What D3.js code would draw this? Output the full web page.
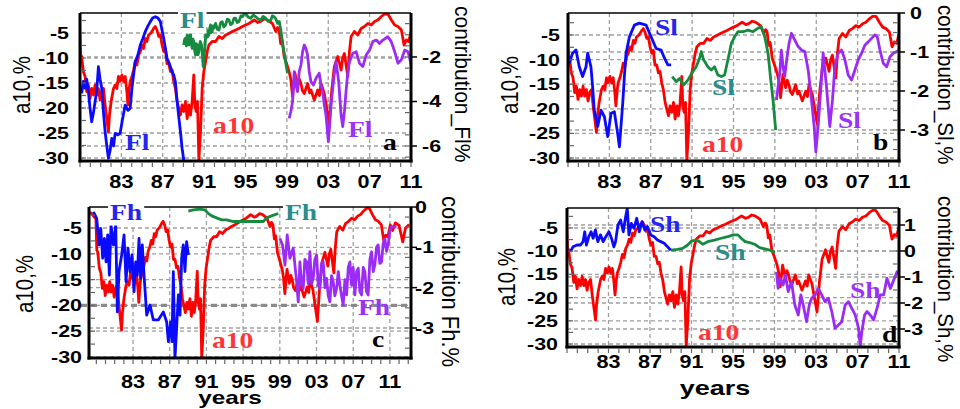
<!DOCTYPE html>
<html><head><meta charset="utf-8">
<script src="https://cdn.jsdelivr.net/npm/d3@7/dist/d3.min.js"></script>
<style>body{margin:0;background:#fff}svg{display:block}</style>
</head><body><svg id="chart" width="960" height="409"></svg>
<script>
// ---------- DATA ----------
const xTickYears = [1983,1987,1991,1995,1999,2003,2007,2011];
const xTickLabels = ["83","87","91","95","99","03","07","11"];
const leftTicks = [-5,-10,-15,-20,-25,-30];
const rightTicksA = [-2,-4,-6];
const rightTicksB = [0,-1,-2,-3];
const rightTicksC = [0,-1,-2,-3];
const rightTicksD = [1,0,-1,-2,-3];

// a10, % (left axis)
const a10 = [[1978.3,-1.9],[1978.6,-2.5],[1978.95,-3.2],[1979.05,-9.3],[1979.16,-9.7],[1979.32,-12.7],[1979.49,-13.7],[1979.65,-16.7],[1979.81,-15.4],[1979.97,-18.1],[1980.13,-16.1],[1980.3,-17.4],[1980.46,-15.4],[1980.62,-17.4],[1980.78,-16.1],[1980.94,-18.4],[1981.1,-16.7],[1981.27,-16.1],[1981.43,-19.4],[1981.59,-22.1],[1981.75,-24.8],[1981.85,-21.4],[1982.01,-18.7],[1982.24,-16.1],[1982.4,-15.4],[1982.56,-16.1],[1982.72,-13.7],[1982.88,-14.7],[1983.05,-13.4],[1983.21,-14.7],[1983.37,-13.7],[1983.53,-16.7],[1983.63,-19.4],[1983.76,-16.1],[1983.85,-14.7],[1984.02,-13.7],[1984.18,-12.4],[1984.34,-10.7],[1984.5,-11.4],[1984.66,-9.4],[1984.83,-8.7],[1984.99,-7.4],[1985.15,-8.1],[1985.31,-6.1],[1985.47,-6.7],[1985.63,-5.4],[1985.8,-5.1],[1985.96,-4.7],[1986.12,-4.1],[1986.28,-3.7],[1986.44,-4.4],[1986.61,-5.7],[1986.77,-5.4],[1986.93,-7.4],[1987.09,-8.7],[1987.25,-8.1],[1987.41,-11.1],[1987.58,-11.1],[1987.74,-12.7],[1987.9,-12.4],[1988.06,-14.7],[1988.22,-16.1],[1988.39,-18.7],[1988.55,-20.1],[1988.71,-21.4],[1988.87,-19.4],[1989.03,-20.7],[1989.2,-18.7],[1989.36,-22.1],[1989.52,-19.4],[1989.68,-21.4],[1989.84,-18.7],[1990.0,-13.4],[1990.1,-19.4],[1990.23,-20.7],[1990.36,-18.7],[1990.49,-30.4],[1990.65,-24.7],[1990.81,-16.1],[1990.97,-12.7],[1991.14,-10.7],[1991.3,-8.7],[1991.46,-7.4],[1991.78,-6.7],[1992.11,-6.7],[1992.43,-5.7],[1992.75,-6.1],[1993.08,-5.4],[1993.4,-5.1],[1993.73,-4.7],[1994.05,-4.4],[1994.37,-4.1],[1994.7,-3.7],[1995.02,-3.4],[1995.34,-3.1],[1995.83,-2.4],[1996.2,-2.9],[1996.48,-2.7],[1996.8,-2.2],[1997.12,-2.4],[1997.4,-2.8],[1997.6,-3.1],[1997.93,-4.7],[1998.1,-3.9],[1998.25,-4.4],[1998.4,-7.1],[1998.55,-6.5],[1998.74,-9.7],[1999.06,-11.7],[1999.25,-13.0],[1999.39,-14.4],[1999.55,-17.7],[1999.78,-13.0],[2000.04,-15.7],[2000.2,-14.2],[2000.36,-15.1],[2000.5,-16.5],[2000.68,-17.1],[2001.01,-15.1],[2001.2,-17.0],[2001.33,-16.4],[2001.65,-18.4],[2001.98,-16.4],[2002.15,-17.5],[2002.3,-15.1],[2002.62,-17.1],[2002.88,-20.4],[2003.1,-23.1],[2003.34,-16.4],[2003.59,-11.7],[2003.92,-9.7],[2004.24,-12.4],[2004.4,-10.0],[2004.56,-9.1],[2004.89,-13.7],[2005.05,-8.7],[2005.21,-5.7],[2005.53,-4.7],[2005.86,-5.4],[2006.18,-4.1],[2006.5,-3.7],[2006.83,-3.1],[2007.15,-3.4],[2007.48,-2.7],[2007.8,-2.4],[2008.13,-1.7],[2008.45,-1.2],[2008.77,-1.2],[2009.1,-2.4],[2009.42,-3.4],[2009.74,-3.7],[2010.07,-4.4],[2010.33,-7.4],[2010.55,-6.4],[2010.78,-6.7],[2011.04,-4.4],[2011.3,-5.5],[2011.6,-4.0],[2012.0,-4.5],[2012.4,-7.7],[2012.7,-5.0],[2013.1,-4.3]];

// contribution_Fl, % (panel a, right axis)
const flBlue = [[1979.16,-3.63],[1979.32,-3.1],[1979.49,-3.4],[1979.65,-3.0],[1979.81,-3.56],[1979.97,-4.3],[1980.13,-4.91],[1980.3,-4.5],[1980.46,-4.0],[1980.62,-3.5],[1980.78,-2.43],[1980.94,-3.0],[1981.1,-3.41],[1981.27,-4.5],[1981.43,-5.36],[1981.59,-6.0],[1981.75,-6.55],[1981.91,-6.2],[1982.07,-5.66],[1982.24,-6.0],[1982.4,-5.43],[1982.66,-5.5],[1982.88,-5.43],[1983.11,-4.8],[1983.37,-4.16],[1983.63,-4.4],[1983.85,-4.31],[1984.02,-3.41],[1984.34,-2.21],[1984.6,-1.9],[1984.83,-1.46],[1985.05,-1.2],[1985.31,-0.86],[1985.57,-0.6],[1985.8,-0.41],[1986.02,-0.25],[1986.28,-0.19],[1986.54,-0.25],[1986.77,-0.41],[1986.93,-0.8],[1987.09,-1.16],[1987.25,-1.6],[1987.41,-2.06],[1987.64,-2.3],[1987.9,-2.66],[1988.06,-2.8],[1988.22,-3.11],[1988.39,-4.01],[1988.55,-4.7],[1988.71,-5.36],[1988.87,-6.1],[1989.03,-6.63]];
const flGreen = [[1989.03,-1.46],[1989.12,-1.2],[1989.2,-1.16],[1989.28,-1.5],[1989.36,-1.01],[1989.44,-1.3],[1989.52,-1.46],[1989.6,-1.1],[1989.68,-0.94],[1989.76,-1.4],[1989.84,-1.61],[1989.92,-1.2],[1990.0,-1.31],[1990.08,-1.7],[1990.17,-1.91],[1990.25,-1.4],[1990.33,-1.46],[1990.41,-1.9],[1990.49,-1.76],[1990.62,-1.3],[1990.75,-1.46],[1990.83,-1.9],[1990.91,-2.43],[1991.0,-1.9],[1991.07,-1.61],[1991.2,-0.71],[1991.33,-1.1],[1991.46,-1.01],[1991.54,-0.7],[1991.62,-0.56],[1991.7,-0.9],[1991.78,-0.86],[1991.87,-0.6],[1991.95,-0.71],[1992.11,-0.49],[1992.27,-0.75],[1992.43,-0.79],[1992.6,-0.45],[1992.75,-0.41],[1992.9,-0.65],[1993.08,-0.56],[1993.24,-0.3],[1993.4,-0.34],[1993.56,-0.55],[1993.73,-0.49],[1993.9,-0.25],[1994.05,-0.26],[1994.2,-0.45],[1994.37,-0.41],[1994.55,-0.15],[1994.7,-0.19],[1994.86,-0.08],[1995.02,-0.04],[1995.25,-0.2],[1995.5,-0.26],[1995.75,-0.12],[1995.99,-0.19],[1996.25,-0.3],[1996.48,-0.34],[1996.7,-0.18],[1996.96,-0.26],[1997.2,-0.4],[1997.45,-0.34],[1997.6,-0.15],[1997.77,-0.19],[1997.95,-0.3],[1998.1,-0.49],[1998.26,-0.4],[1998.42,-0.79],[1998.58,-1.39],[1998.74,-1.83],[1998.9,-2.28],[1999.06,-2.73]];
const flPurple = [[1999.22,-4.76],[1999.38,-4.46],[1999.55,-4.01],[1999.71,-2.66],[1999.87,-3.26],[2000.03,-3.56],[2000.19,-2.66],[2000.36,-2.36],[2000.52,-1.76],[2000.68,-1.46],[2000.84,-1.61],[2001.0,-1.91],[2001.16,-2.66],[2001.33,-3.11],[2001.58,-3.26],[2001.81,-2.96],[2002.13,-2.73],[2002.3,-3.26],[2002.46,-3.56],[2002.62,-4.16],[2002.78,-4.61],[2003.01,-5.8],[2003.14,-5.06],[2003.27,-4.16],[2003.53,-2.96],[2003.75,-2.21],[2004.01,-3.11],[2004.24,-4.61],[2004.4,-5.13],[2004.56,-4.46],[2004.72,-3.56],[2004.89,-2.66],[2005.05,-2.21],[2005.37,-1.84],[2005.7,-1.76],[2006.02,-2.28],[2006.34,-2.43],[2006.67,-1.91],[2006.99,-1.69],[2007.31,-1.31],[2007.64,-1.24],[2007.96,-1.39],[2008.28,-1.24],[2008.77,-1.09],[2009.09,-1.31],[2009.42,-1.76],[2009.74,-2.28],[2010.06,-2.13],[2010.39,-1.69],[2010.71,-1.76],[2011.03,-2.36]];

// contribution_Sl, % (panel b, right axis)
const slBlue = [[1979.12,-1.29],[1979.44,-1.03],[1979.77,-0.95],[1980.09,-1.38],[1980.41,-1.63],[1980.74,-1.38],[1980.9,-1.03],[1981.22,-1.38],[1981.38,-1.89],[1981.54,-2.49],[1981.87,-2.91],[1982.19,-2.49],[1982.52,-2.66],[1982.84,-3.17],[1983.16,-2.57],[1983.48,-2.53],[1983.8,-3.09],[1983.97,-3.43],[1984.29,-2.32],[1984.45,-1.63],[1984.61,-1.03],[1984.94,-0.61],[1985.42,-0.31],[1985.9,-0.26],[1986.55,-0.31],[1987.03,-0.61],[1987.52,-0.91],[1988.0,-0.95],[1988.33,-1.16],[1988.65,-1.33],[1988.97,-1.33]];
const slGreen = [[1989.07,-1.63],[1989.46,-1.76],[1989.78,-1.68],[1990.17,-1.85],[1990.59,-1.72],[1991.07,-1.5],[1991.39,-1.38],[1991.72,-1.16],[1991.88,-0.99],[1992.11,-1.2],[1992.52,-1.38],[1992.85,-1.46],[1993.17,-1.38],[1993.49,-1.59],[1993.82,-1.63],[1994.14,-1.59],[1994.46,-1.2],[1994.79,-0.78],[1995.11,-0.61],[1995.43,-0.48],[1995.92,-0.48],[1996.4,-0.44],[1996.89,-0.48],[1997.37,-0.39],[1997.69,-0.35],[1998.02,-0.61],[1998.34,-1.03],[1998.57,-1.63],[1998.82,-2.23],[1999.08,-3.0]];
const slPurple = [[1999.15,-2.23],[1999.31,-1.89],[1999.47,-1.55],[1999.63,-0.95],[1999.79,-1.38],[1999.95,-1.63],[2000.18,-1.12],[2000.37,-0.78],[2000.6,-0.52],[2000.92,-0.69],[2001.25,-0.86],[2001.57,-0.95],[2001.89,-0.99],[2002.22,-1.46],[2002.54,-2.23],[2002.8,-2.91],[2002.96,-3.56],[2003.18,-2.91],[2003.41,-2.06],[2003.67,-1.03],[2003.99,-1.89],[2004.31,-2.91],[2004.57,-2.23],[2004.8,-1.38],[2005.12,-1.03],[2005.45,-0.95],[2005.77,-1.2],[2006.09,-1.59],[2006.41,-1.72],[2006.74,-1.46],[2007.06,-1.2],[2007.38,-1.03],[2007.71,-0.82],[2008.03,-0.74],[2008.35,-0.65],[2008.67,-0.56],[2008.9,-0.61],[2009.16,-0.95],[2009.48,-1.29],[2009.81,-1.38],[2010.13,-1.12],[2010.45,-1.03],[2010.78,-0.99],[2011.0,-0.95]];

// contribution Fh, % (panel c, right axis)
const fhBlue = [[1978.68,-0.12],[1979.04,-0.28],[1979.3,-0.94],[1979.48,-0.53],[1979.69,-1.27],[1979.88,-0.78],[1980.06,-1.36],[1980.24,-0.69],[1980.42,-1.69],[1980.6,-0.45],[1980.86,-0.94],[1981.11,-0.45],[1981.29,-2.6],[1981.47,-1.6],[1981.76,-1.19],[1982.02,-0.69],[1982.24,-1.85],[1982.45,-1.02],[1982.67,-1.6],[1982.89,-1.19],[1983.11,-2.1],[1983.29,-1.36],[1983.47,-1.69],[1983.65,-0.78],[1983.83,-1.77],[1984.01,-0.94],[1984.2,-1.69],[1984.49,-2.68],[1984.85,-2.43],[1985.21,-2.8],[1985.76,-2.8],[1986.3,-2.6],[1986.67,-2.85],[1986.85,-3.34],[1987.1,-2.85],[1987.25,-3.34],[1987.39,-1.6],[1987.57,-3.76],[1987.75,-3.01],[1987.94,-2.18],[1988.12,-2.68],[1988.3,-1.27],[1988.48,-0.94],[1988.66,-1.6],[1988.84,-0.86],[1989.03,-1.19]];
const fhGreen = [[1989.03,-0.1],[1989.57,-0.07],[1990.3,-0.05],[1990.84,-0.07],[1991.2,-0.16],[1991.57,-0.22],[1992.11,-0.27],[1992.66,-0.32],[1993.2,-0.32],[1993.93,-0.36],[1995.02,-0.36],[1996.1,-0.36],[1997.2,-0.36],[1997.56,-0.27],[1998.1,-0.22],[1998.83,-0.16]];
const fhPurple = [[1999.01,-0.78],[1999.3,-0.94],[1999.56,-1.44],[1999.81,-0.69],[2000.1,-1.27],[2000.46,-1.02],[2000.83,-1.85],[2001.01,-2.35],[2001.19,-1.36],[2001.37,-1.9],[2001.55,-2.02],[2001.73,-1.3],[2001.92,-1.36],[2002.1,-1.9],[2002.28,-1.11],[2002.46,-1.9],[2002.64,-1.77],[2002.82,-1.3],[2003.01,-1.19],[2003.19,-1.95],[2003.37,-2.02],[2003.55,-1.4],[2003.73,-1.36],[2003.92,-2.0],[2004.1,-1.77],[2004.28,-2.2],[2004.46,-2.35],[2004.64,-1.7],[2004.82,-1.85],[2005.0,-2.2],[2005.19,-2.02],[2005.37,-1.6],[2005.55,-1.94],[2005.73,-2.2],[2005.91,-2.43],[2006.1,-1.8],[2006.28,-2.18],[2006.46,-1.5],[2006.64,-1.36],[2006.82,-1.94],[2007.0,-1.5],[2007.18,-2.18],[2007.37,-1.6],[2007.55,-1.52],[2007.73,-2.1],[2007.91,-2.18],[2008.09,-1.5],[2008.27,-1.6],[2008.45,-2.1],[2008.63,-2.18],[2008.82,-1.3],[2009.0,-1.11],[2009.18,-1.6],[2009.36,-1.44],[2009.54,-1.0],[2009.72,-0.94],[2009.9,-1.4],[2010.09,-1.36],[2010.27,-0.9],[2010.45,-0.78],[2010.63,-1.1],[2010.81,-0.94],[2011.0,-0.6],[2011.18,-0.49],[2011.72,-0.49]];

// contribution_Sh, % (panel d, right axis)
const shBlue = [[1979.32,-0.03],[1979.58,0.16],[1979.97,0.23],[1980.29,0.23],[1980.55,0.36],[1980.71,0.74],[1980.87,0.23],[1981.1,0.55],[1981.32,0.74],[1981.52,0.49],[1981.74,0.81],[1981.97,0.36],[1982.23,0.62],[1982.49,0.36],[1982.74,0.55],[1983.04,0.74],[1983.29,0.49],[1983.52,0.16],[1983.68,0.36],[1983.91,1.0],[1984.17,1.19],[1984.42,0.74],[1984.65,1.32],[1984.81,1.64],[1984.97,0.62],[1985.2,1.06],[1985.46,0.87],[1985.72,1.26],[1985.97,0.74],[1986.23,1.13],[1986.49,0.81],[1986.75,0.94],[1987.07,0.62],[1987.4,0.55],[1987.72,0.42],[1988.04,0.36],[1988.37,0.3],[1988.69,0.16],[1989.01,0.03]];
const shGreen = [[1989.01,0.03],[1989.66,0.06],[1990.14,0.1],[1990.63,0.23],[1991.01,0.38],[1991.43,0.42],[1991.76,0.36],[1992.08,0.26],[1992.56,0.36],[1993.21,0.42],[1993.86,0.49],[1994.5,0.55],[1994.99,0.62],[1995.47,0.62],[1995.79,0.49],[1996.18,0.36],[1996.6,0.32],[1997.09,0.26],[1997.57,0.13],[1998.06,0.08],[1998.54,0.03],[1999.02,-0.05]];
const shPurple = [[1999.19,-0.8],[1999.35,-1.44],[1999.57,-1.05],[1999.83,-1.31],[2000.06,-0.92],[2000.32,-1.56],[2000.64,-1.18],[2000.96,-2.08],[2001.29,-2.46],[2001.54,-1.69],[2001.77,-2.08],[2002.09,-2.72],[2002.35,-2.08],[2002.58,-1.82],[2002.9,-1.69],[2003.22,-1.44],[2003.55,-1.69],[2003.87,-1.95],[2004.19,-1.82],[2004.52,-2.33],[2004.84,-2.97],[2005.16,-2.85],[2005.48,-2.72],[2005.81,-2.08],[2006.13,-1.95],[2006.45,-2.21],[2006.78,-2.46],[2007.1,-2.97],[2007.26,-3.68],[2007.42,-3.1],[2007.68,-2.46],[2007.91,-2.33],[2008.23,-2.46],[2008.55,-2.65],[2008.88,-2.21],[2009.2,-1.69],[2009.52,-1.69],[2009.84,-1.05],[2010.17,-1.44],[2010.49,-1.12],[2010.81,-0.8],[2011.04,-0.92]];

// ---------- STYLE ----------
const RED = "#ff0000", BLUE = "#0a0aff", GREEN = "#168a3e", PURPLE = "#9a2cf5";
const LBL_BLUE = "#2525ee", LBL_TEAL = "#2a8c8c", LBL_RED = "#ff3535", LBL_PURPLE = "#9a33f5";
const SANS = "'Liberation Sans', Arial, sans-serif", SERIF = "'Liberation Serif', 'Times New Roman', serif";

const svg = d3.select("#chart");

function txt(g, s, x, y, o) {
  const t = g.append("text").text(s)
    .attr("transform", `translate(${x},${y})` + (o.rot ? ` rotate(${o.rot})` : "") + ` scale(${o.sx || 1},${o.sy || 1})`)
    .attr("font-family", o.ff || SANS).attr("font-size", o.fs)
    .attr("font-weight", o.fw || "normal").attr("fill", o.fill || "#000")
    .attr("text-anchor", o.anchor || "start");
  if (o.dy) t.attr("dy", o.dy);
  return t;
}

const panels = [
  { id: "a", rect: { l: 80, r: 411, t: 13, b: 161 }, xd: [1979, 2011],
    yL: { d: [-30, -5], r: [158, 33] }, yR: { d: [-6, 0], r: [146, 12.5] }, rTicks: rightTicksA, rMinor: 0.5,
    series: [[a10, RED, "L"], [flBlue, BLUE, "R"], [flGreen, GREEN, "R"], [flPurple, PURPLE, "R"]],
    leftLblX: 69, rightLblX: 422, botLblY: 188,
    yTitle: { x: 30, y: 85 }, rTitle: { x: 455, y: 6, s: "contribution_Fl%", fs: 21 },
    labels: [["Fl", 125, 150, LBL_BLUE], ["Fl", 180, 28, LBL_TEAL, true], ["a10", 213, 133, LBL_RED], ["Fl", 348, 137, LBL_PURPLE], ["a", 383, 150, "#000"]] },
  { id: "b", rect: { l: 568, r: 899, t: 13, b: 161 }, xd: [1979, 2011],
    yL: { d: [-30, -5], r: [158, 35] }, yR: { d: [-3, 0], r: [130, 13] }, rTicks: rightTicksB, rMinor: 0.25,
    series: [[a10, RED, "L"], [slBlue, BLUE, "R"], [slGreen, GREEN, "R"], [slPurple, PURPLE, "R"]],
    leftLblX: 560, rightLblX: 910, botLblY: 188,
    yTitle: { x: 518, y: 85 }, rTitle: { x: 938, y: 5, s: "contribution_Sl,%", fs: 20.5 },
    labels: [["Sl", 655, 35, LBL_BLUE], ["Sl", 712, 95, LBL_TEAL], ["a10", 702, 152, LBL_RED], ["Sl", 838, 128, LBL_PURPLE], ["b", 873, 150, "#000"]] },
  { id: "c", rect: { l: 89, r: 411, t: 207, b: 358 }, xd: [1978.2, 2013.3],
    yL: { d: [-30, -5], r: [357, 228] }, yR: { d: [-3, 0], r: [328, 207] }, rTicks: rightTicksC, rMinor: 0.25,
    series: [[a10, RED, "L"], [fhBlue, BLUE, "R"], [fhGreen, GREEN, "R"], [fhPurple, PURPLE, "R"]],
    leftLblX: 82, rightLblX: 415, botLblY: 388, heavy20: true,
    yTitle: { x: 33, y: 284 }, rTitle: { x: 442, y: 196, s: "contribution Fh.%", fs: 22 },
    xTitle: { x: 230, y: 404, fs: 18 },
    labels: [["Fh", 110, 220, LBL_BLUE, true], ["Fh", 285, 220, LBL_TEAL, true], ["a10", 212, 348, LBL_RED], ["Fh", 358, 315, LBL_PURPLE], ["c", 372, 347, "#000"]] },
  { id: "d", rect: { l: 567, r: 899, t: 208, b: 347 }, xd: [1979, 2011],
    yL: { d: [-30, -5], r: [344, 228] }, yR: { d: [-3, 1], r: [329, 225] }, rTicks: rightTicksD, rMinor: 0.5,
    series: [[a10, RED, "L"], [shBlue, BLUE, "R"], [shGreen, GREEN, "R"], [shPurple, PURPLE, "R"]],
    leftLblX: 558, rightLblX: 904, botLblY: 368,
    yTitle: { x: 515, y: 277 }, rTitle: { x: 938, y: 196, s: "contribution_Sh,%", fs: 20.5 },
    xTitle: { x: 715, y: 395, fs: 20 },
    labels: [["Sh", 650, 232, LBL_BLUE], ["Sh", 715, 260, LBL_TEAL], ["a10", 698, 340, LBL_RED], ["Sh", 850, 298, LBL_PURPLE], ["d", 882, 342, "#000"]] }
];

panels.forEach(p => {
  const R = p.rect;
  const x = d3.scaleLinear().domain(p.xd).range([R.l, R.r]);
  const yL = d3.scaleLinear().domain(p.yL.d).range(p.yL.r);
  const yR = d3.scaleLinear().domain(p.yR.d).range(p.yR.r);
  const g = svg.append("g");

  // clip
  g.append("clipPath").attr("id", "clip-" + p.id).append("rect")
    .attr("x", R.l).attr("y", R.t).attr("width", R.r - R.l).attr("height", R.b - R.t);

  // grid
  const grid = g.append("g").attr("stroke", "#a0a0a0").attr("stroke-width", 1.3).attr("stroke-dasharray", "4,3");
  xTickYears.forEach(v => grid.append("line").attr("x1", x(v)).attr("x2", x(v)).attr("y1", R.t).attr("y2", R.b));
  leftTicks.forEach(v => grid.append("line").attr("x1", R.l).attr("x2", R.r).attr("y1", yL(v)).attr("y2", yL(v)));
  p.rTicks.forEach(v => { const yy = yR(v); if (yy > R.t + 3 && yy < R.b - 3) grid.append("line").attr("x1", R.l).attr("x2", R.r).attr("y1", yy).attr("y2", yy); });
  if (p.heavy20) {
    g.append("line").attr("x1", R.l - 8).attr("x2", R.r).attr("y1", yL(-20)).attr("y2", yL(-20))
      .attr("stroke", "#8a8a8a").attr("stroke-width", 3.2).attr("stroke-dasharray", "6,4");
  }

  // series
  const sg = g.append("g").attr("clip-path", `url(#clip-${p.id})`);
  p.series.forEach(([data, color, ax]) => {
    const ys = ax === "L" ? yL : yR;
    const line = d3.line().x(d => x(d[0])).y(d => ys(d[1]));
    sg.append("path").datum(data).attr("d", line).attr("fill", "none")
      .attr("stroke", color).attr("stroke-width", 2.8).attr("stroke-linejoin", "round");
  });

  // frame
  const f = g.append("g").attr("stroke", "#000").attr("fill", "none");
  f.append("line").attr("x1", R.l).attr("x2", R.r).attr("y1", R.t).attr("y2", R.t).attr("stroke-width", 1.6);
  f.append("line").attr("x1", R.l).attr("x2", R.l).attr("y1", R.t).attr("y2", R.b + 1.5).attr("stroke-width", 3);
  f.append("line").attr("x1", R.r).attr("x2", R.r).attr("y1", R.t).attr("y2", R.b + 1.5).attr("stroke-width", 3);
  f.append("line").attr("x1", R.l - 1.5).attr("x2", R.r + 1.5).attr("y1", R.b).attr("y2", R.b).attr("stroke-width", 3);

  // minor ticks
  const tk = g.append("g").attr("stroke", "#666").attr("stroke-width", 1.2);
  for (let yr = Math.ceil(p.xd[0]); yr <= Math.floor(p.xd[1]); yr++) {
    tk.append("line").attr("x1", x(yr)).attr("x2", x(yr)).attr("y1", R.b + 1.5).attr("y2", R.b + 6);
  }
  for (let v = -30; v <= 0; v += 2.5) {
    const yy = yL(v); if (yy > R.t + 2 && yy < R.b - 2)
      tk.append("line").attr("x1", R.l + 1.5).attr("x2", R.l + 6).attr("y1", yy).attr("y2", yy);
  }
  for (let v = p.yR.d[0] - 1; v <= p.yR.d[1] + 1; v += p.rMinor) {
    const yy = yR(v); if (yy > R.t + 2 && yy < R.b - 2)
      tk.append("line").attr("x1", R.r - 1.5).attr("x2", R.r - 6).attr("y1", yy).attr("y2", yy);
  }
  p.rTicks.forEach(v => g.append("line").attr("x1", R.r).attr("x2", R.r + 6).attr("y1", yR(v)).attr("y2", yR(v)).attr("stroke", "#000").attr("stroke-width", 1.5));

  // tick labels
  leftTicks.forEach(v => txt(g, String(v), p.leftLblX, yL(v), { fs: 16.5, fw: "bold", sx: 1.3, anchor: "end", dy: "0.36em" }));
  p.rTicks.forEach(v => txt(g, String(v), p.rightLblX, yR(v), { fs: 16.5, fw: "bold", sx: 1.3, dy: "0.36em" }));
  xTickYears.forEach((v, i) => txt(g, xTickLabels[i], x(v), p.botLblY, { fs: 18, fw: "bold", sx: 1.2, anchor: "middle" }));

  // titles
  txt(g, "a10,%", p.yTitle.x, p.yTitle.y, { fs: 20.5, rot: -90, sy: 1.2, anchor: "middle" });
  txt(g, p.rTitle.s, p.rTitle.x, p.rTitle.y, { fs: p.rTitle.fs, rot: 90, sy: 1.05 });
  if (p.xTitle) txt(g, "years", p.xTitle.x, p.xTitle.y, { fs: p.xTitle.fs, fw: "bold", sx: 1.35, anchor: "middle" });

  // series labels
  p.labels.forEach(([s, lx, ly, col, bg]) => {
    const t = txt(g, s, lx, ly, { fs: 23, fw: "bold", ff: SERIF, sx: 1.2, fill: col });
    if (bg) {
      const b = t.node().getBBox();
      g.insert("rect", () => t.node())
        .attr("x", lx - 2).attr("y", ly + b.y - 1).attr("width", b.width * 1.2 + 4).attr("height", b.height + 2)
        .attr("fill", "#fff");
    }
  });
});
</script>
</body></html>
